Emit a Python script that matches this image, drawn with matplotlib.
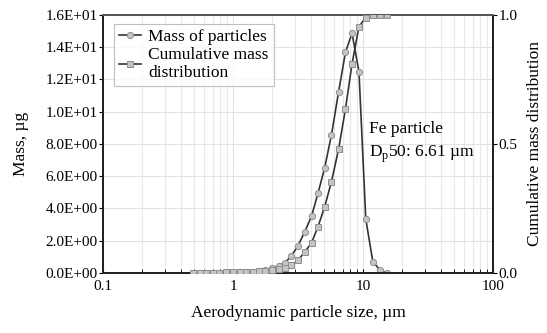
import matplotlib
matplotlib.use("Agg")
import matplotlib.pyplot as plt
from matplotlib.ticker import FixedLocator, FuncFormatter, LogLocator, NullFormatter

plt.rcParams["font.family"] = ["Liberation Serif", "DejaVu Serif"]
plt.rcParams["mathtext.fontset"] = "custom"
plt.rcParams["mathtext.rm"] = "Liberation Serif"

# particle size channels, um
size_um = [0.492, 0.557, 0.625, 0.702, 0.787, 0.884, 1.0, 1.122, 1.259, 1.413,
           1.585, 1.778, 1.995, 2.239, 2.512, 2.818, 3.162, 3.548, 4.02, 4.51,
           5.06, 5.72, 6.49, 7.33, 8.23, 9.31, 10.5, 11.9, 13.5, 15.2]
# mass per channel, ug
mass_ug = [0.01, 0.01, 0.015, 0.02, 0.02, 0.03, 0.03, 0.04, 0.05, 0.08,
           0.12, 0.19, 0.28, 0.43, 0.64, 1.07, 1.69, 2.52, 3.53, 4.96,
           6.49, 8.56, 11.24, 13.69, 14.87, 12.48, 3.35, 0.70, 0.19, 0.0]
# cumulative mass fraction
cum_frac = [0.0, 0.0, 0.0, 0.001, 0.001, 0.002, 0.002, 0.003, 0.004, 0.005,
            0.007, 0.009, 0.012, 0.015, 0.018, 0.031, 0.05, 0.08, 0.117, 0.18,
            0.255, 0.354, 0.48, 0.636, 0.81, 0.955, 0.99, 1.0, 1.0, 1.0]

fig = plt.figure(figsize=(5.47, 3.33), dpi=100)
ax = fig.add_axes([0.1883, 0.1802, 0.7130, 0.7748])

line_c = "#333333"
mk_face = "#c4c4c4"
mk_edge = "#8e8e8e"

ax.plot(size_um, mass_ug, color=line_c, lw=1.2, marker="o", ms=4.5,
        mfc=mk_face, mec=mk_edge, mew=0.7, label="Mass of particles", zorder=4)

ax2 = ax.twinx()
ax2.plot(size_um, cum_frac, color=line_c, lw=1.2, marker="s", ms=4.5,
         mfc=mk_face, mec=mk_edge, mew=0.7, zorder=4)
# proxy for legend
ax.plot([], [], color=line_c, lw=1.2, marker="s", ms=4.5, mfc=mk_face,
        mec=mk_edge, mew=0.7, label="Cumulative mass\ndistribution")

ax.set_xscale("log")
ax.set_xlim(0.1, 100)
ax.set_ylim(0, 16)
ax2.set_ylim(0, 1)

ax.xaxis.set_major_locator(FixedLocator([0.1, 1, 10, 100]))
ax.xaxis.set_major_formatter(FuncFormatter(lambda v, p: f"{v:g}"))
ax.xaxis.set_minor_locator(LogLocator(base=10, subs=range(2, 10)))
ax.xaxis.set_minor_formatter(NullFormatter())
ax.set_yticks([0, 2, 4, 6, 8, 10, 12, 14, 16])
ax.yaxis.set_major_formatter(FuncFormatter(lambda v, p: f"{v:.1E}"))
ax2.set_yticks([0.0, 0.5, 1.0])
ax2.yaxis.set_major_formatter(FuncFormatter(lambda v, p: f"{v:.1f}"))

ax.grid(True, which="major", color="#e2e2e2", lw=0.8)
ax.grid(True, which="minor", axis="x", color="#e8e8e8", lw=0.8)
ax.set_axisbelow(True)

for a in (ax, ax2):
    for s in a.spines.values():
        s.set_color("#222222")
        s.set_linewidth(1.4)
ax.spines["top"].set_color("#555555")
ax2.spines["top"].set_color("#555555")

ax.tick_params(axis="y", direction="out", length=3, labelsize=11, pad=1)
ax.tick_params(axis="x", which="both", direction="in", length=3, labelsize=11, pad=5)
ax2.tick_params(axis="y", direction="out", length=3, labelsize=11, pad=1)

ax.set_xlabel("Aerodynamic particle size, µm", fontsize=12.5, labelpad=9)
ax.set_ylabel("Mass, µg", fontsize=12.5, labelpad=12)
ax2.set_ylabel("Cumulative mass distribution", fontsize=12.5, labelpad=7)

leg = ax.legend(loc="upper left", bbox_to_anchor=(0.005, 1.0), fontsize=12.5,
                frameon=True, fancybox=False, edgecolor="#b0b0b0",
                handlelength=1.3, handletextpad=0.4, borderpad=0.3,
                labelspacing=0.1)
leg.get_frame().set_linewidth(0.8)
leg.set_zorder(10)

ax.text(11.2, 8.9, "Fe particle", fontsize=12.5, va="center", ha="left")
ax.text(11.2, 7.35, r"D$_\mathregular{p}$50: 6.61 µm", fontsize=12.5,
        va="center", ha="left")

fig.savefig("out.png", dpi=100)
